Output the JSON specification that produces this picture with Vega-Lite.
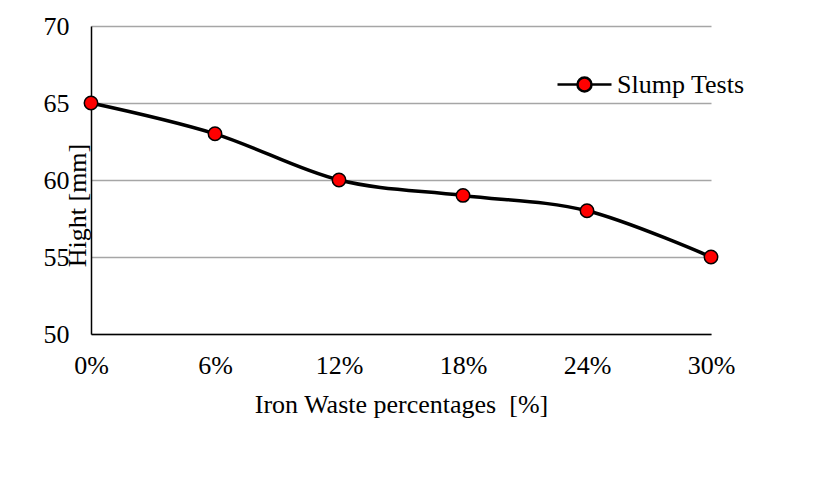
{
  "$schema": "https://vega.github.io/schema/vega-lite/v6.json",
  "width": 620,
  "height": 308,
  "autosize": "none",
  "padding": {"left": 91, "top": 26, "right": 124, "bottom": 150},
  "background": "white",
  "config": {
    "view": {"stroke": null},
    "font": "Liberation Serif"
  },
  "data": {
    "values": [
      {"pct": 0, "hight": 65, "series": "Slump Tests"},
      {"pct": 6, "hight": 63, "series": "Slump Tests"},
      {"pct": 12, "hight": 60, "series": "Slump Tests"},
      {"pct": 18, "hight": 59, "series": "Slump Tests"},
      {"pct": 24, "hight": 58, "series": "Slump Tests"},
      {"pct": 30, "hight": 55, "series": "Slump Tests"}
    ]
  },
  "encoding": {
    "x": {
      "field": "pct",
      "type": "quantitative",
      "scale": {"domain": [0, 30], "nice": false, "zero": false},
      "axis": {
        "values": [0, 6, 12, 18, 24, 30],
        "labelExpr": "datum.value + '%'",
        "grid": false,
        "ticks": false,
        "domainColor": "black",
        "domainWidth": 1.5,
        "labelFont": "Liberation Serif",
        "labelFontSize": 26,
        "labelColor": "black",
        "labelBaseline": "alphabetic",
        "labelPadding": 39,
        "labelFlush": false,
        "labelOverlap": false,
        "title": "Iron Waste percentages \u00a0[%]",
        "titleFont": "Liberation Serif",
        "titleFontSize": 26,
        "titleFontWeight": "normal",
        "titleColor": "black",
        "titleBaseline": "alphabetic",
        "titleY": 78
      }
    },
    "y": {
      "field": "hight",
      "type": "quantitative",
      "scale": {"domain": [50, 70], "nice": false, "zero": false},
      "axis": {
        "values": [50, 55, 60, 65, 70],
        "grid": true,
        "gridColor": "#a6a6a6",
        "gridWidth": 1.5,
        "ticks": false,
        "domainColor": "black",
        "domainWidth": 1.5,
        "labelFont": "Liberation Serif",
        "labelFontSize": 26,
        "labelColor": "black",
        "labelPadding": 22,
        "labelFlush": false,
        "labelOverlap": false,
        "title": "Hight [mm]",
        "titleFont": "Liberation Serif",
        "titleFontSize": 26,
        "titleFontWeight": "normal",
        "titleColor": "black",
        "titleAngle": -90,
        "titleAlign": "center",
        "titleBaseline": "alphabetic",
        "titleX": -6,
        "titleY": 179
      }
    }
  },
  "layer": [
    {
      "mark": {"type": "line", "interpolate": "cardinal", "strokeWidth": 3.5},
      "encoding": {
        "color": {
          "field": "series",
          "type": "nominal",
          "scale": {"range": ["black"]},
          "legend": {
            "title": null,
            "orient": "none",
            "legendX": 465,
            "legendY": 30,
            "padding": 0,
            "symbolType": "M-1,0H-0.26M0.26,0H1M0.26,0A0.26,0.26 0 1,1 -0.26,0A0.26,0.26 0 1,1 0.26,0Z",
            "symbolSize": 2916,
            "symbolStrokeWidth": 2.5,
            "labelFont": "Liberation Serif",
            "labelFontSize": 26,
            "labelColor": "black",
            "labelOffset": 4,
            "encode": {
              "symbols": {"update": {"fill": {"value": "red"}, "stroke": {"value": "black"}, "opacity": {"value": 1}}}
            }
          }
        }
      }
    },
    {
      "mark": {"type": "point", "filled": true, "fill": "red", "stroke": "black", "strokeWidth": 1.5, "size": 180, "opacity": 1}
    }
  ]
}
